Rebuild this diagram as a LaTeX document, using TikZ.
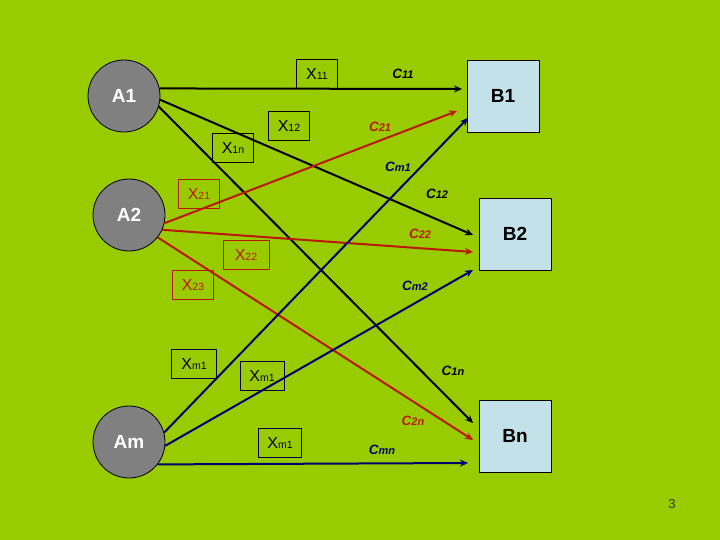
\documentclass[tikz,border=0pt]{standalone}
\usepackage{fontspec}
\setmainfont{Liberation Sans}
\usetikzlibrary{arrows.meta}
\definecolor{bg}{RGB}{153,204,0}
\definecolor{boxblue}{RGB}{194,225,232}
\definecolor{redline}{RGB}{186,24,0}
\definecolor{navy}{RGB}{0,0,110}
\definecolor{circgray}{RGB}{128,128,128}
\newcommand{\Xs}[1]{X{\fontsize{10.5}{10.5}\selectfont #1}}
\newcommand{\Cs}[1]{C{\fontsize{11}{11}\selectfont #1}}
\begin{document}
\begin{tikzpicture}[x=1pt,y=-1pt,
  src/.style={circle, draw=black, line width=0.8pt, fill=circgray, minimum size=72pt, inner sep=0pt,
    font=\fontsize{19}{19}\selectfont\bfseries, text=white},
  dst/.style={rectangle, draw=black, line width=0.8pt, fill=boxblue, minimum size=72pt, inner sep=0pt,
    font=\fontsize{19}{19}\selectfont\bfseries, text=black},
  xlab/.style={draw, line width=0.7pt, minimum height=29pt, minimum width=41pt, inner sep=0pt,
    font=\fontsize{16}{16}\selectfont},
  clab/.style={font=\fontsize{13.5}{13.5}\selectfont\bfseries\itshape, inner sep=0pt},
  conn/.style={line width=2pt, -{Stealth[length=8pt,width=7pt]}}]
\fill[bg] (0,0) rectangle (720,540);
\useasboundingbox (0,0) rectangle (720,540);

% sources
\node[src] (A1) at (124,96) {A1};
\node[src] (A2) at (129,215) {A2};
\node[src] (Am) at (129,442) {Am};
% destinations
\node[dst] (B1) at (503,96) {B1};
\node[dst] (B2) at (515,234) {B2};
\node[dst] (Bn) at (515,436) {Bn};

% arrow end points
\coordinate (e11) at (462,89);
\coordinate (e12) at (473,235);
\coordinate (e1n) at (473,423);
\coordinate (e21) at (457,111);
\coordinate (e22) at (473,252);
\coordinate (e2n) at (473,440);
\coordinate (em1) at (468,118);
\coordinate (em2) at (473,270);
\coordinate (emn) at (468,463);

% connectors
\draw[conn, black] (A1.12) -- (e11);
\draw[conn, black] (A1.-6) -- (e12);
\draw[conn, black] (A1.-17) -- (e1n);
\draw[conn, redline] (A2.-13) -- (e21);
\draw[conn, redline] (A2.-24) -- (e22);
\draw[conn, redline] (A2.-38) -- (e2n);
\draw[conn, navy] (Am.15) -- (em1);
\draw[conn, navy] (Am.-6) -- (em2);
\draw[conn, navy] (Am.-38) -- (emn);

% X labels
\node[xlab, draw=black] (x11) at (317,74) {\Xs{11}};
\node[xlab, draw=black] (x12) at (289,126) {\Xs{12}};
\node[xlab, draw=black] (x1n) at (233,148) {\Xs{1n}};
\node[xlab, draw=redline, text=redline] (x21) at (199,194) {\Xs{21}};
\node[xlab, draw=redline, text=redline, minimum width=46pt] (x22) at (246,255) {\Xs{22}};
\node[xlab, draw=redline, text=redline] (x23) at (193,285) {\Xs{23}};
\node[xlab, draw=navy!60!black, text=navy!50!black, minimum width=45pt] (xm1a) at (194,364) {\Xs{m1}};
\node[xlab, draw=navy!60!black, text=navy!50!black, minimum width=44pt] (xm1b) at (262,376) {\Xs{m1}};
\node[xlab, draw=navy!60!black, text=navy!50!black, minimum width=43pt] (xm1c) at (280,443) {\Xs{m1}};

% C labels
\node[clab, text=black] (c11) at (403,74) {\Cs{11}};
\node[clab, text=redline] (c21) at (380,127) {\Cs{21}};
\node[clab, text=navy] (cm1) at (398,167) {\Cs{m1}};
\node[clab, text=black] (c12) at (437,194) {\Cs{12}};
\node[clab, text=redline] (c22) at (420,234) {\Cs{22}};
\node[clab, text=navy] (cm2) at (415,286) {\Cs{m2}};
\node[clab, text=black] (c1n) at (453,371) {\Cs{1n}};
\node[clab, text=redline] (c2n) at (413,421) {\Cs{2n}};
\node[clab, text=navy] (cmn) at (382,450) {\Cs{mn}};

% page number
\node[font=\fontsize{13}{13}\selectfont, text=black!80] (pg) at (672,504) {3};
\end{tikzpicture}
\end{document}
